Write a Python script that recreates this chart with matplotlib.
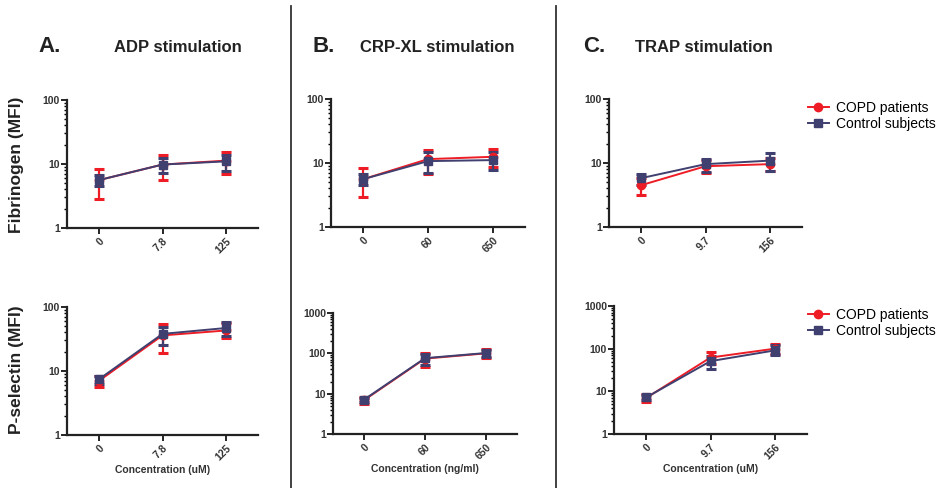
import matplotlib
matplotlib.use("Agg")
import matplotlib.pyplot as plt
from matplotlib.ticker import LogLocator, NullFormatter, FixedLocator, FixedFormatter
import numpy as np

plt.rcParams['font.family'] = ['Liberation Sans', 'DejaVu Sans']

W, H = 946, 488

# ---------------- data ----------------
adp_ticks = ["0", "7.8", "125"]
crp_ticks = ["0", "60", "650"]
trap_ticks = ["0", "9.7", "156"]

# Fibrinogen (MFI): mean, lower, upper
fib_adp_copd = [5.6, 9.8, 11.3]
fib_adp_copd_lo = [2.85, 5.7, 6.9]
fib_adp_copd_hi = [8.4, 13.8, 15.2]
fib_adp_ctrl = [5.6, 9.8, 11.0]
fib_adp_ctrl_lo = [4.6, 7.3, 7.9]
fib_adp_ctrl_hi = [6.7, 12.3, 13.8]

fib_crp_copd = [5.6, 11.5, 12.5]
fib_crp_copd_lo = [2.9, 6.7, 8.6]
fib_crp_copd_hi = [8.3, 15.9, 16.5]
fib_crp_ctrl = [5.6, 10.7, 11.1]
fib_crp_ctrl_lo = [4.5, 6.9, 7.8]
fib_crp_ctrl_hi = [6.7, 14.7, 15.0]

fib_trap_copd = [4.5, 8.9, 9.6]
fib_trap_copd_lo = [3.16, 6.9, 7.6]
fib_trap_copd_hi = [5.9, 11.2, 11.8]
fib_trap_ctrl = [5.8, 9.6, 10.9]
fib_trap_ctrl_lo = [4.5, 7.3, 7.6]
fib_trap_ctrl_hi = [6.8, 11.7, 14.5]

# P-selectin (MFI)
ps_adp_copd = [7.0, 36.0, 43.0]
ps_adp_copd_lo = [5.7, 18.9, 33.0]
ps_adp_copd_hi = [8.3, 54.0, 55.6]
ps_adp_ctrl = [7.4, 38.0, 47.0]
ps_adp_ctrl_lo = [6.3, 25.5, 35.2]
ps_adp_ctrl_hi = [8.4, 49.0, 57.6]

ps_crp_copd = [6.8, 74.0, 100.0]
ps_crp_copd_lo = [5.5, 47.0, 75.0]
ps_crp_copd_hi = [8.1, 100.0, 128.0]
ps_crp_ctrl = [7.0, 76.0, 102.0]
ps_crp_ctrl_lo = [6.3, 50.0, 80.0]
ps_crp_ctrl_hi = [8.0, 98.0, 124.0]

ps_trap_copd = [7.0, 62.0, 100.0]
ps_trap_copd_lo = [5.7, 43.0, 76.0]
ps_trap_copd_hi = [8.6, 82.0, 126.0]
ps_trap_ctrl = [7.2, 51.0, 91.0]
ps_trap_ctrl_lo = [6.2, 33.0, 72.0]
ps_trap_ctrl_hi = [8.3, 69.0, 119.0]

RED = "#ee1c25"
NAVY = "#3f3f70"

fig = plt.figure(figsize=(W / 100, H / 100), dpi=100)


def axes_px(x0, x1, y0, y1):
    return fig.add_axes([x0 / W, 1 - y1 / H, (x1 - x0) / W, (y1 - y0) / H])


def draw(ax, ticks, copd, clo, chi, ctrl, tlo, thi, ymax):
    x = np.arange(len(ticks))
    handles = []
    for m, lo, hi, col, mk, lab in [
        (copd, clo, chi, RED, "o", "COPD patients"),
        (ctrl, tlo, thi, NAVY, "s", "Control subjects"),
    ]:
        m = np.array(m); lo = np.array(lo); hi = np.array(hi)
        cont = ax.errorbar(x, m, yerr=[m - lo, hi - m], color=col, marker=mk,
                           markersize=6, lw=1.4, elinewidth=1.6, capsize=3.5,
                           capthick=2.2, label=lab, clip_on=False)
        handles.append(cont[0])
    ax.set_yscale("log")
    ax.set_ylim(1, ymax)
    ax.set_xlim(-0.5, 2.5)
    ax.set_xticks(x)
    ax.set_xticklabels(ticks, rotation=45, ha="right", rotation_mode="anchor",
                       fontsize=7.5, fontweight="bold", color="#333333")
    majors = [10 ** k for k in range(0, int(round(np.log10(ymax))) + 1)]
    ax.yaxis.set_major_locator(FixedLocator(majors))
    ax.yaxis.set_major_formatter(FixedFormatter([str(v) for v in majors]))
    ax.yaxis.set_minor_locator(LogLocator(base=10, subs=np.arange(2, 10)))
    ax.yaxis.set_minor_formatter(NullFormatter())
    for lbl in ax.get_yticklabels():
        lbl.set_fontsize(7.5)
        lbl.set_fontweight("bold")
        lbl.set_color("#333333")
    ax.spines["top"].set_visible(False)
    ax.spines["right"].set_visible(False)
    for s in ("left", "bottom"):
        ax.spines[s].set_linewidth(1.6)
        ax.spines[s].set_color("#222222")
    ax.tick_params(axis="y", which="major", length=4, width=1.2, pad=1)
    ax.tick_params(axis="y", which="minor", length=2.5, width=1.0)
    ax.tick_params(axis="x", which="major", length=4, width=1.2, pad=2)
    return handles


axA1 = axes_px(67, 258, 100, 228)
axA2 = axes_px(67, 258, 307, 435)
axB1 = axes_px(331, 525, 99, 227)
axB2 = axes_px(333, 517, 313, 434)
axC1 = axes_px(609, 802, 99, 227)
axC2 = axes_px(614, 807, 306, 434)

draw(axA1, adp_ticks, fib_adp_copd, fib_adp_copd_lo, fib_adp_copd_hi,
     fib_adp_ctrl, fib_adp_ctrl_lo, fib_adp_ctrl_hi, 100)
draw(axB1, crp_ticks, fib_crp_copd, fib_crp_copd_lo, fib_crp_copd_hi,
     fib_crp_ctrl, fib_crp_ctrl_lo, fib_crp_ctrl_hi, 100)
hC1 = draw(axC1, trap_ticks, fib_trap_copd, fib_trap_copd_lo, fib_trap_copd_hi,
           fib_trap_ctrl, fib_trap_ctrl_lo, fib_trap_ctrl_hi, 100)
draw(axA2, adp_ticks, ps_adp_copd, ps_adp_copd_lo, ps_adp_copd_hi,
     ps_adp_ctrl, ps_adp_ctrl_lo, ps_adp_ctrl_hi, 100)
draw(axB2, crp_ticks, ps_crp_copd, ps_crp_copd_lo, ps_crp_copd_hi,
     ps_crp_ctrl, ps_crp_ctrl_lo, ps_crp_ctrl_hi, 1000)
hC2 = draw(axC2, trap_ticks, ps_trap_copd, ps_trap_copd_lo, ps_trap_copd_hi,
           ps_trap_ctrl, ps_trap_ctrl_lo, ps_trap_ctrl_hi, 1000)

# x labels
for ax, lab in [(axA2, "Concentration (uM)"), (axB2, "Concentration (ng/ml)"),
                (axC2, "Concentration (uM)")]:
    ax.set_xlabel(lab, fontsize=7.5, fontweight="bold", color="#333333", labelpad=2)

# y labels
fig.text(17 / W, 1 - 165 / H, "Fibrinogen (MFI)", rotation=90, ha="center",
         va="center", fontsize=12.5, fontweight="bold", color="#222222")
fig.text(17 / W, 1 - 370 / H, "P-selectin (MFI)", rotation=90, ha="center",
         va="center", fontsize=12.5, fontweight="bold", color="#222222")

# titles
for xl, lbl, xt, ttl in [(38, "A.", 178, "ADP stimulation"),
                         (312, "B.", 437, "CRP-XL stimulation"),
                         (583, "C.", 704, "TRAP stimulation")]:
    fig.text(xl / W, 1 - 47 / H, lbl, ha="left", va="center", fontsize=16,
             fontweight="bold", color="#222222")
    fig.text(xt / W, 1 - 47 / H, ttl, ha="center", va="center", fontsize=12,
             fontweight="bold", color="#222222")

# divider lines
for xd in (291, 556):
    fig.add_artist(plt.Line2D([xd / W, xd / W], [0, 1 - 6 / H],
                              transform=fig.transFigure, color="#333333", lw=1.3))

# legends
for hs, ytop in [(hC1, 101), (hC2, 308)]:
    fig.legend(hs, ["COPD patients", "Control subjects"], loc="upper left",
               bbox_to_anchor=(808 / W, 1 - ytop / H),
               frameon=False, fontsize=10, handlelength=1.5, handletextpad=0.5,
               labelspacing=0.15, borderaxespad=0, borderpad=0)

fig.savefig("out.png", dpi=100)
